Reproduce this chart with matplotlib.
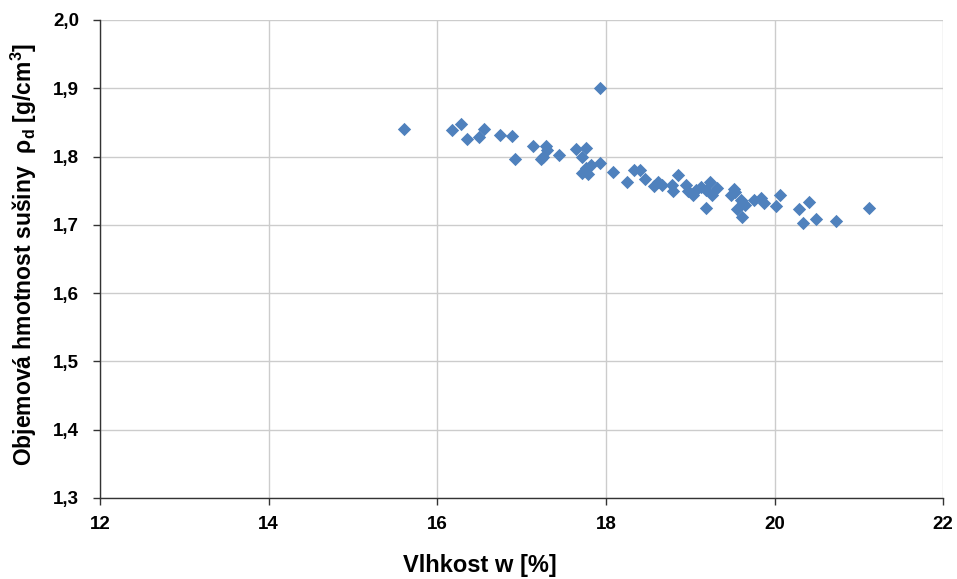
import matplotlib
matplotlib.use('Agg')
import matplotlib.pyplot as plt

plt.rcParams['font.family'] = ['Liberation Sans', 'DejaVu Sans']

# vlhkost w [%]
w = [15.60, 16.18, 16.28, 16.35, 16.49, 16.55, 16.75, 16.89, 16.92, 17.13,
     17.29, 17.30, 17.23, 17.26, 17.44, 17.65, 17.77, 17.72, 17.93, 17.72,
     17.79, 17.76, 17.82, 17.93, 18.09, 18.25, 18.33, 18.41, 18.46, 18.57,
     18.62, 18.67, 18.79, 18.80, 18.86, 18.95, 18.97, 19.03, 19.07, 19.13,
     19.19, 19.23, 19.19, 19.26, 19.32, 19.48, 19.52, 19.53, 19.60, 19.63,
     19.55, 19.62, 19.65, 19.76, 19.84, 19.87, 20.02, 20.06, 20.29, 20.41,
     20.34, 20.49, 20.73, 21.12]
# objemova hmotnost susiny [g/cm3]
rho_d = [1.840, 1.839, 1.848, 1.825, 1.829, 1.841, 1.831, 1.830, 1.797, 1.815,
         1.816, 1.810, 1.796, 1.799, 1.802, 1.811, 1.812, 1.800, 1.901, 1.776,
         1.775, 1.783, 1.788, 1.790, 1.778, 1.762, 1.780, 1.780, 1.767, 1.757,
         1.762, 1.758, 1.759, 1.750, 1.773, 1.758, 1.749, 1.744, 1.751, 1.756,
         1.751, 1.763, 1.725, 1.744, 1.754, 1.744, 1.752, 1.748, 1.737, 1.732,
         1.723, 1.712, 1.729, 1.737, 1.740, 1.732, 1.727, 1.744, 1.723, 1.734,
         1.702, 1.709, 1.705, 1.724]

xticks = [12, 14, 16, 18, 20, 22]
yticks = [1.3, 1.4, 1.5, 1.6, 1.7, 1.8, 1.9, 2.0]

fig = plt.figure(figsize=(9.57, 5.79), dpi=100)
ax = fig.add_axes([0.1045, 0.14, 0.881, 0.8255])

ax.scatter(w, rho_d, marker='D', s=46, color='#4F81BD', zorder=3, linewidths=0)

ax.set_xlim(12, 22)
ax.set_ylim(1.3, 2.0)
ax.set_xticks(xticks)
ax.set_yticks(yticks)
ax.set_xticklabels([str(t) for t in xticks])
ax.set_yticklabels([f'{t:.1f}'.replace('.', ',') for t in yticks])
ax.grid(True, color='#cccccc', linewidth=1)
ax.set_axisbelow(True)

for s in ['top', 'right']:
    ax.spines[s].set_visible(False)
for s in ['left', 'bottom']:
    ax.spines[s].set_color('#333333')
    ax.spines[s].set_linewidth(1)

ax.tick_params(axis='both', labelsize=13.5, length=5, width=1, color='#333333')
ax.tick_params(axis='x', pad=8)
ax.tick_params(axis='y', pad=10)
for lbl in ax.get_xticklabels() + ax.get_yticklabels():
    lbl.set_fontweight('bold')

ax.set_xlabel('Vlhkost w [%]', fontsize=17, fontweight='bold')
ax.xaxis.set_label_coords((480 - 100) / 843, -0.118)
ax.set_ylabel('Objemová hmotnost sušiny  ρ$_\\mathregular{d}$ [g/cm$^\\mathregular{3}$]',
              fontsize=16.5, fontweight='bold')
ax.yaxis.set_label_coords(-0.072, 0.51)

fig.savefig('out.png', dpi=100)
